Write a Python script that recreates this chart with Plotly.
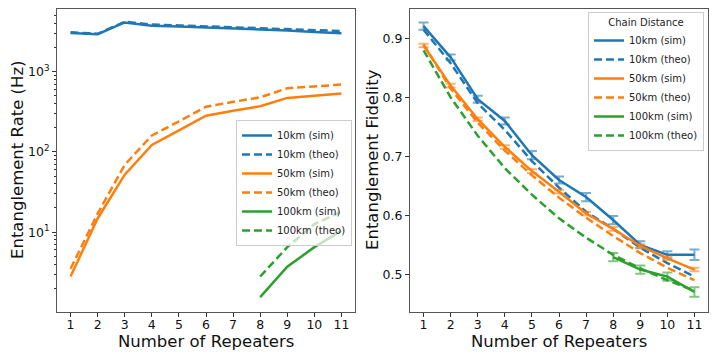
import plotly.graph_objects as go
from plotly.subplots import make_subplots

repeaters = [1, 2, 3, 4, 5, 6, 7, 8, 9, 10, 11]
far_repeaters = [8, 9, 10, 11]

# entanglement rate (Hz)
rate_10_sim = [3030, 2920, 4100, 3730, 3650, 3560, 3470, 3390, 3260, 3110, 3010]
rate_10_theo = [3100, 2960, 4180, 3850, 3760, 3660, 3570, 3470, 3370, 3270, 3200]
rate_50_sim = [2.8, 14.8, 52, 122, 185, 282, 325, 370, 470, 505, 535]
rate_50_theo = [3.5, 17, 69, 160, 240, 365, 420, 478, 620, 660, 690]
rate_100_sim = [1.55, 3.7, 6.5, 10.4]
rate_100_theo = [2.8, 6.5, 12.6, 18]

# entanglement fidelity
fid_10_sim = [0.921, 0.868, 0.797, 0.760, 0.702, 0.660, 0.631, 0.592, 0.550, 0.533, 0.533]
fid_10_err = [0.006, 0.005, 0.006, 0.006, 0.007, 0.006, 0.007, 0.007, 0.006, 0.006, 0.009]
fid_10_theo = [0.915, 0.858, 0.790, 0.745, 0.692, 0.647, 0.606, 0.577, 0.545, 0.519, 0.496]
fid_50_sim = [0.888, 0.820, 0.763, 0.716, 0.675, 0.640, 0.603, 0.577, 0.548, 0.527, 0.508]
fid_50_err = [0.003, 0.003, 0.003, 0.003, 0.003, 0.003, 0.003, 0.003, 0.003, 0.003, 0.003]
fid_50_theo = [0.890, 0.815, 0.757, 0.710, 0.668, 0.630, 0.596, 0.565, 0.536, 0.511, 0.490]
fid_100_sim = [0.529, 0.508, 0.496, 0.470]
fid_100_err = [0.007, 0.007, 0.007, 0.008]
fid_100_theo = [0.880, 0.800, 0.735, 0.680, 0.635, 0.595, 0.562, 0.533, 0.510, 0.490, 0.472]

labels = ["10km (sim)", "10km (theo)", "50km (sim)", "50km (theo)", "100km (sim)", "100km (theo)"]
colors = ["#1f77b4", "#1f77b4", "#ff7f0e", "#ff7f0e", "#2ca02c", "#2ca02c"]
err_colors = ["rgba(31,119,180,0.6)", "rgba(255,127,14,0.6)", "rgba(44,160,44,0.6)"]

W, H, PAGE_PAD = 718, 359, 8  # the page body adds an 8px margin


def px(x):
    return (x - PAGE_PAD) / W


def py(y):
    return 1 - (y - PAGE_PAD) / H


fig = make_subplots(rows=1, cols=2)

rate_series = [
    (repeaters, rate_10_sim), (repeaters, rate_10_theo),
    (repeaters, rate_50_sim), (repeaters, rate_50_theo),
    (far_repeaters, rate_100_sim), (far_repeaters, rate_100_theo),
]
for i, (xs, ys) in enumerate(rate_series):
    fig.add_trace(go.Scatter(
        x=xs, y=ys, mode="lines", name=labels[i], legend="legend",
        line=dict(color=colors[i], width=2.5, dash="solid" if i % 2 == 0 else "8px,4px"),
    ), row=1, col=1)

fid_series = [
    (repeaters, fid_10_sim, fid_10_err), (repeaters, fid_10_theo, None),
    (repeaters, fid_50_sim, fid_50_err), (repeaters, fid_50_theo, None),
    (far_repeaters, fid_100_sim, fid_100_err), (repeaters, fid_100_theo, None),
]
for i, (xs, ys, err) in enumerate(fid_series):
    ebar = None
    if err is not None:
        ebar = dict(type="data", array=err, visible=True, color=err_colors[i // 2],
                    thickness=2, width=5)
    fig.add_trace(go.Scatter(
        x=xs, y=ys, mode="lines", name=labels[i], legend="legend2",
        line=dict(color=colors[i], width=2.5, dash="solid" if i % 2 == 0 else "8px,4px"),
        error_y=ebar,
    ), row=1, col=2)

axis_common = dict(
    showline=True, mirror=True, linecolor="#555", linewidth=1, automargin=False,
    ticks="outside", ticklen=4, tickcolor="#333", showgrid=False, zeroline=False,
    tickfont=dict(size=12.5, color="#111"),
)

fig.update_xaxes(**axis_common, tickvals=repeaters, range=[0.5, 11.5], ticklabelstandoff=-3)
fig.update_xaxes(domain=[px(57), px(355)], row=1, col=1)
fig.update_xaxes(domain=[px(410), px(708)], row=1, col=2)

fig.update_yaxes(**axis_common, domain=[py(312), py(9)])
fig.update_yaxes(
    type="log", range=[0.005, 3.78],
    tickvals=[10, 100, 1000], ticktext=["10<sup>1</sup>", "10<sup>2</sup>", "10<sup>3</sup>"],
    minor=dict(ticks="outside", ticklen=2, tickcolor="#333",
               tickvals=[2, 3, 4, 5, 6, 7, 8, 9, 20, 30, 40, 50, 60, 70, 80, 90,
                         200, 300, 400, 500, 600, 700, 800, 900, 2000, 3000, 4000, 5000]),
    row=1, col=1,
)
fig.update_yaxes(range=[0.436, 0.95], tickvals=[0.5, 0.6, 0.7, 0.8, 0.9], row=1, col=2)

title_font = dict(size=16.5, color="#111")
axis_titles = [
    ("Number of Repeaters", 206, 341, 0),
    ("Number of Repeaters", 559, 341, 0),
    ("Entanglement Rate (Hz)", 17, 160, -90),
    ("Entanglement Fidelity", 372, 160, -90),
]
for text, tx, ty, angle in axis_titles:
    fig.add_annotation(text=text, x=px(tx), y=py(ty), xref="paper", yref="paper",
                       xanchor="center", yanchor="middle", showarrow=False,
                       textangle=angle, font=title_font)

legend_common = dict(
    bgcolor="rgba(255,255,255,0.7)", bordercolor="#ccc", borderwidth=1,
    font=dict(size=10, color="#222"), tracegroupgap=0, itemwidth=30,
    xanchor="right", yanchor="top",
)
fig.update_layout(
    width=W, height=H,
    margin=dict(l=0, r=0, t=0, b=0),
    plot_bgcolor="white", paper_bgcolor="white",
    font=dict(family="DejaVu Sans"),
    legend=dict(**legend_common, x=px(352), y=py(120)),
    legend2=dict(**legend_common, x=px(704), y=py(12),
                 title=dict(text="Chain Distance", side="top center", font=dict(size=10))),
)

fig.write_html("out.html")
